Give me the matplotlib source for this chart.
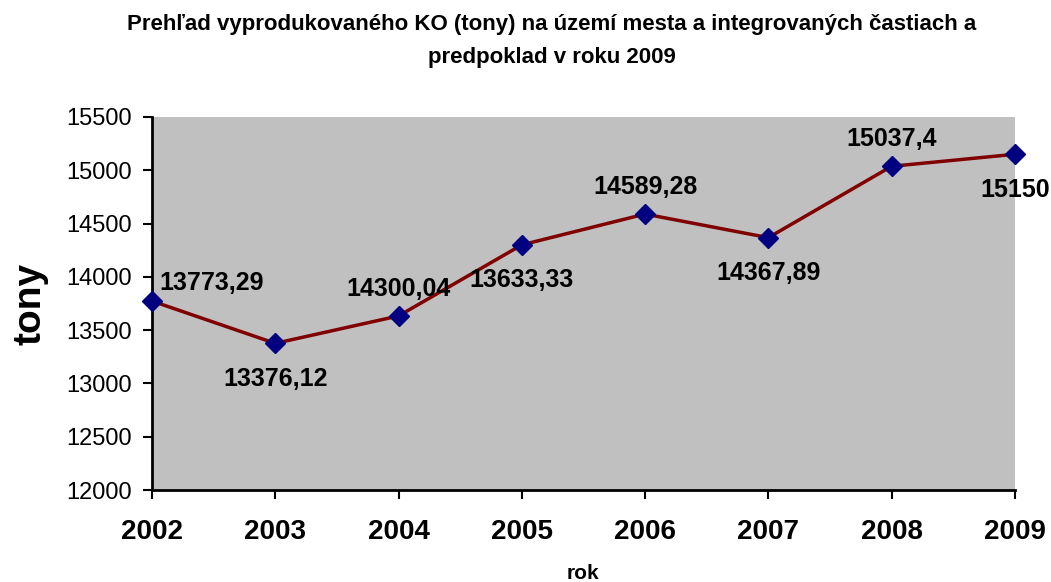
import matplotlib
matplotlib.use("Agg")
import matplotlib.pyplot as plt

plt.rcParams['font.family'] = ['Liberation Sans', 'DejaVu Sans']

years = [2002, 2003, 2004, 2005, 2006, 2007, 2008, 2009]
values = [13773.29, 13376.12, 13633.33, 14300.04, 14589.28, 14367.89, 15037.4, 15150]
# labels as printed on the chart (2004/2005 appear swapped in the original)
labels = ['13773,29', '13376,12', '14300,04', '13633,33',
          '14589,28', '14367,89', '15037,4', '15150']
# where each label sits relative to its point
label_pos = ['right', 'below', 'above', 'below', 'above', 'below', 'above', 'below']

fig = plt.figure(figsize=(10.51, 5.82), dpi=100)
ax = fig.add_axes([0.1446, 0.158, 0.821, 0.641])
ax.set_facecolor('#c0c0c0')

ax.plot(years, values, color='#800000', linewidth=2.5, marker='D',
        markersize=10, markerfacecolor='#000080', markeredgecolor='#000080',
        clip_on=False, zorder=3)

for x, y, lab, pos in zip(years, values, labels, label_pos):
    if pos == 'above':
        ax.annotate(lab, (x, y), xytext=(0, 11), textcoords='offset points',
                    ha='center', va='bottom', fontsize=18, fontweight='bold')
    elif pos == 'below':
        ax.annotate(lab, (x, y), xytext=(0, -17), textcoords='offset points',
                    ha='center', va='top', fontsize=18, fontweight='bold')
    else:
        ax.annotate(lab, (x, y), xytext=(5, 4), textcoords='offset points',
                    ha='left', va='bottom', fontsize=18, fontweight='bold')

ax.set_xlim(2002, 2009)
ax.set_ylim(12000, 15500)
ax.set_xticks(years)
ax.set_xticklabels([str(y) for y in years], fontsize=20, fontweight='bold')
ax.set_yticks(range(12000, 15501, 500))
ax.tick_params(axis='y', labelsize=17, direction='out', length=6.5, width=1.5, pad=8)
ax.tick_params(axis='x', direction='out', length=6.5, width=1.5, pad=14)

for side in ['top', 'right']:
    ax.spines[side].set_visible(False)
for side in ['left', 'bottom']:
    ax.spines[side].set_linewidth(2)

ax.set_ylabel('tony', fontsize=28, fontweight='bold', labelpad=13)
ax.set_xlabel('rok', fontsize=15, fontweight='bold', labelpad=14)

fig.text(0.525, 0.93, 'Prehľad vyprodukovaného KO (tony) na území mesta a integrovaných častiach a\npredpoklad v roku 2009',
         ha='center', va='center', fontsize=16, fontweight='bold', linespacing=1.75)

fig.savefig('out.png', dpi=100)
